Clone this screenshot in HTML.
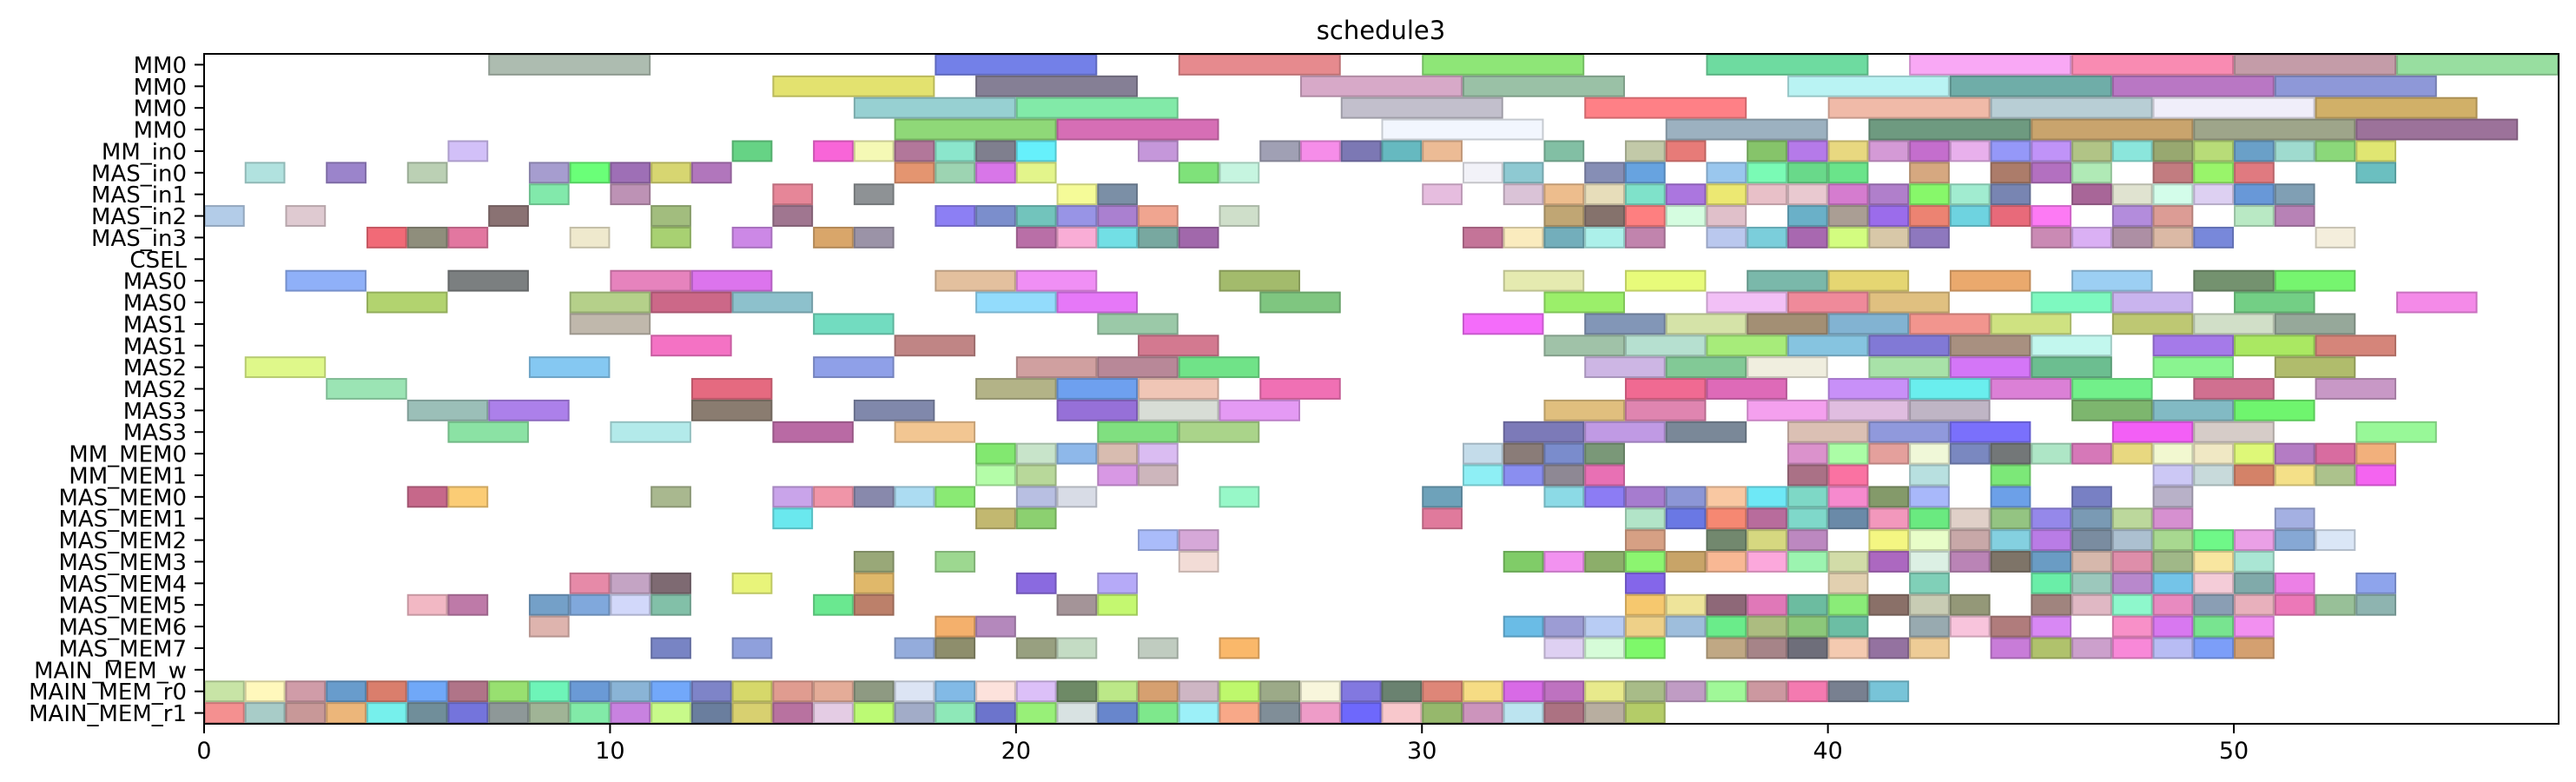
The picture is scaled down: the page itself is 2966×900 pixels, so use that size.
<!DOCTYPE html>
<html><head><meta charset="utf-8"><title>schedule3</title>
<style>
html,body{margin:0;padding:0;background:#fff;}
svg{display:block;font-family:"DejaVu Sans","Liberation Sans",sans-serif;}
</style></head>
<body>
<svg id="chart" width="2966" height="900" viewBox="0 0 2966 900">
<text x="1590" y="45" font-size="29" text-anchor="middle" fill="#000">schedule3</text>
<g id="bars"></g>
<g id="yaxis"></g>
<g id="xaxis"></g>
<rect x="235" y="62" width="2711" height="771" fill="none" stroke="#000" stroke-width="2"/>
</svg>
<script>
const rowLabels = ["MM0","MM0","MM0","MM0","MM_in0","MAS_in0","MAS_in1","MAS_in2","MAS_in3","CSEL","MAS0","MAS0","MAS1","MAS1","MAS2","MAS2","MAS3","MAS3","MM_MEM0","MM_MEM1","MAS_MEM0","MAS_MEM1","MAS_MEM2","MAS_MEM3","MAS_MEM4","MAS_MEM5","MAS_MEM6","MAS_MEM7","MAIN_MEM_w","MAIN_MEM_r0","MAIN_MEM_r1"];
const xTicks = [0,10,20,30,40,50];
const xDomain = [0,58];
// per row duration
const rowDurations = [4,4,4,4,1,1,1,1,1,1,2,2,2,2,2,2,2,2,1,1,1,1,1,1,1,1,1,1,1,1,1];
// per row: [start, color]
const rowTasks = [
[[7,'#adbcb0'],[18,'#7380e8'],[24,'#e68a8e'],[30,'#8ee677'],[37,'#6edba0'],[42,'#f9a8f5'],[46,'#f98bb2'],[50,'#c49ca8'],[54,'#98dea0']],
[[14,'#e3e26f'],[19,'#857f95'],[27,'#d7a9c8'],[31,'#9ac1a6'],[39,'#b9f3f3'],[43,'#6fada8'],[47,'#b977c4'],[51,'#8e98d8']],
[[16,'#97d0d2'],[20,'#82eaa8'],[28,'#c2bfcc'],[34,'#fe8086'],[40,'#f0baa8'],[44,'#b8ced5'],[48,'#f0eefa'],[52,'#d1b068']],
[[17,'#8fd878'],[21,'#d66eb5'],[29,'#f2f6fe'],[36,'#9cb1c0'],[41,'#6e9a80'],[45,'#c9a46d'],[49,'#9ea58a'],[53,'#9c729a']],
[[6,'#d2c0f8'],[13,'#66d385'],[15,'#f865d8'],[16,'#f5f9b5'],[17,'#b2779a'],[18,'#8be6cc'],[19,'#7f7f8e'],[20,'#66f0fb'],[23,'#c597da'],[26,'#a0a0b4'],[27,'#f68de9'],[28,'#7c78b4'],[29,'#66b9c0'],[30,'#ecbb95'],[33,'#82bfa4'],[35,'#c2c9a8'],[36,'#e77b78'],[38,'#86c46a'],[39,'#b57ae9'],[40,'#e8d880'],[41,'#d49ad6'],[42,'#c46ecd'],[43,'#e8b0ec'],[44,'#9598f8'],[45,'#c093f8'],[46,'#b1c486'],[47,'#8be6dc'],[48,'#98a870'],[49,'#b8dc78'],[50,'#6aa0c8'],[51,'#9fdbcf'],[52,'#8bd87a'],[53,'#e0e672']],
[[1,'#b1e2df'],[3,'#9b84cb'],[5,'#bbd0b4'],[8,'#a69dcf'],[9,'#6aff78'],[10,'#9e6fb6'],[11,'#d7d671'],[12,'#b176bc'],[17,'#e49570'],[18,'#9dd4b2'],[19,'#d876e8'],[20,'#e3f58b'],[24,'#7fe27a'],[25,'#c6f5e0'],[31,'#f2f2f8'],[32,'#8ec9d2'],[34,'#868eb5'],[35,'#67a3e0'],[37,'#9ac7ee'],[38,'#7afbb5'],[39,'#69d98a'],[40,'#6ae48a'],[42,'#d6a880'],[44,'#ac7c6a'],[45,'#b370c0'],[46,'#b0eab6'],[48,'#c27c80'],[49,'#99f56a'],[50,'#e07a80'],[53,'#6bbfc0']],
[[8,'#82e9ab'],[10,'#bd92b5'],[14,'#e68698'],[16,'#8e9295'],[21,'#f5fb98'],[22,'#7b8fa6'],[30,'#e6bddf'],[32,'#dac3d7'],[33,'#edbd8d'],[34,'#e7ddba'],[35,'#7fe2ca'],[36,'#ab76df'],[37,'#ece872'],[38,'#e8c0c8'],[39,'#e9c9d0'],[40,'#d57ccf'],[41,'#b07fcb'],[42,'#87f86a'],[43,'#a1ecd0'],[44,'#7885b2'],[46,'#a86698'],[47,'#e0e3d0'],[48,'#d3fdea'],[49,'#ddd0f2'],[50,'#6898d8'],[51,'#809fb4']],
[[0,'#b3cce8'],[2,'#dfcad1'],[7,'#8a7273'],[11,'#a2bd7e'],[14,'#a07690'],[18,'#8c7ff4'],[19,'#7b8ecc'],[20,'#72c4bc'],[21,'#9894e6'],[22,'#aa80d0'],[23,'#f0a590'],[25,'#cfdfca'],[33,'#c0a674'],[34,'#85726c'],[35,'#fe7f80'],[36,'#d5fde0'],[37,'#e0c0ca'],[39,'#6ab0c8'],[40,'#aa9e94'],[41,'#9b6ceb'],[42,'#ec8372'],[43,'#6ed3e0'],[44,'#e86a7a'],[45,'#fd7af4'],[47,'#b38cdc'],[48,'#dc9c95'],[50,'#b9e9c4'],[51,'#b782b6']],
[[4,'#f16a77'],[5,'#8f8e7c'],[6,'#e277a0'],[9,'#efe9cd'],[11,'#a8d172'],[13,'#cc88e6'],[15,'#d9a66a'],[16,'#9b93a7'],[20,'#b96fa7'],[21,'#f9add6'],[22,'#72dfe5'],[23,'#78a8a0'],[24,'#a168ab'],[31,'#c47498'],[32,'#faebbe'],[33,'#73aebb'],[34,'#acf0ea'],[35,'#c184ad'],[37,'#bac8ee'],[38,'#7bcedb'],[39,'#a868b0'],[40,'#d3fd80'],[41,'#d8c8a8'],[42,'#8e78be'],[45,'#ca8ab4'],[46,'#dab0f4'],[47,'#ad8fa4'],[48,'#dbb9a5'],[49,'#7888da'],[52,'#f4eedc']],
[],
[[2,'#8fb0f8'],[6,'#7b7f80'],[10,'#e683bd'],[12,'#dc74ed'],[18,'#e3c09e'],[20,'#f08ff5'],[25,'#a3bb6c'],[32,'#e5eab0'],[35,'#e8fb7a'],[38,'#7ab8aa'],[40,'#e5d672'],[43,'#eaa96d'],[46,'#9ccff3'],[49,'#74926f'],[51,'#76f56f']],
[[4,'#b2d36f'],[9,'#b5d08a'],[11,'#cc6888'],[13,'#8dc1cc'],[19,'#93dcfc'],[21,'#e678f8'],[26,'#7fc680'],[33,'#9bef6a'],[37,'#f2c0f6'],[39,'#ef8a9a'],[41,'#e0c080'],[45,'#7ef9c0'],[47,'#c9b4ee'],[50,'#73cf85'],[54,'#f48ae8']],
[[9,'#c0b8ac'],[15,'#72dcc0'],[22,'#9bc9a8'],[31,'#f46cfa'],[34,'#8296b7'],[36,'#d5e3a8'],[38,'#a38f74'],[40,'#82b3d2'],[42,'#f2958e'],[44,'#cfe281'],[47,'#bec873'],[49,'#d1dfc8'],[51,'#96a89a']],
[[11,'#f472c4'],[17,'#c08585'],[23,'#d37990'],[33,'#a0c2a8'],[35,'#b6e0d0'],[37,'#a7ec7a'],[39,'#86c4e0'],[41,'#8179d6'],[43,'#a89080'],[45,'#c2f7ee'],[48,'#a57ae9'],[50,'#aae862'],[52,'#d5857a']],
[[1,'#dff88a'],[8,'#85c8f2'],[15,'#8fa0e8'],[20,'#d0a0a0'],[22,'#b88898'],[24,'#70e388'],[34,'#cdb6e4'],[36,'#82c996'],[38,'#f0eedf'],[41,'#a8e2a8'],[43,'#d476f7'],[45,'#6cbe90'],[48,'#8af490'],[51,'#b0bc6c']],
[[3,'#9be4b4'],[12,'#e56a80'],[19,'#b3b387'],[21,'#6ea0ef'],[23,'#f0c6b6'],[26,'#f070b4'],[35,'#f06a92'],[37,'#de6ab8'],[40,'#c890f8'],[42,'#6aeeee'],[44,'#db80d6'],[46,'#72f08a'],[49,'#d07090'],[52,'#c898c6']],
[[5,'#9bbfb8'],[7,'#ac80ea'],[12,'#8a7c70'],[16,'#8088ab'],[21,'#9670d8'],[23,'#d8ddd6'],[25,'#e49af4'],[33,'#e0bf7e'],[35,'#df85b0'],[38,'#f4a0ee'],[40,'#e0bde0'],[42,'#bfb5c5'],[46,'#7db66e'],[48,'#82bac4'],[50,'#6ff56e']],
[[6,'#8be2a4'],[10,'#b3eaea'],[14,'#b96aa4'],[17,'#f2c692'],[22,'#80e080'],[24,'#aad48a'],[32,'#7c7ab8'],[34,'#c09ae4'],[36,'#7a8898'],[39,'#dbc0b4'],[41,'#9099dc'],[43,'#7a70fc'],[47,'#f35ff6'],[49,'#d6ccc8'],[53,'#98f898']],
[[19,'#82e870'],[20,'#c8e4ca'],[21,'#8eb8ea'],[22,'#d8bcb0'],[23,'#dabcf2'],[31,'#c4dcea'],[32,'#8a7c78'],[33,'#7a8ccc'],[34,'#7a9878'],[39,'#db92cc'],[40,'#abfda6'],[41,'#e4a09c'],[42,'#f0f8d8'],[43,'#7a88c0'],[44,'#737778'],[45,'#aee6c6'],[46,'#d678b8'],[47,'#e8d880'],[48,'#f2f8d0'],[49,'#f0e8c4'],[50,'#def878'],[51,'#b47cc4'],[52,'#d86ca0'],[53,'#f2b07c']],
[[19,'#b4fda8'],[20,'#b8d89a'],[22,'#d898e4'],[23,'#cdb6bc'],[31,'#8eeff5'],[32,'#8a8ef0'],[33,'#8e8894'],[34,'#e870b4'],[39,'#aa7186'],[40,'#fa72a2'],[42,'#b8e0e0'],[44,'#7ce878'],[48,'#ccc8f5'],[49,'#c8dadb'],[50,'#d48268'],[51,'#f4e088'],[52,'#acc28c'],[53,'#f464f0']],
[[5,'#c6688a'],[6,'#fbcc75'],[11,'#a9b88f'],[14,'#c9a4ea'],[15,'#f095a8'],[16,'#8889ac'],[17,'#acdcf2'],[18,'#8aea74'],[20,'#b8bfe2'],[21,'#d8dce6'],[25,'#97f8c8'],[30,'#6ea2ba'],[33,'#8cdae6'],[34,'#8c7cf4'],[35,'#a67ccf'],[36,'#8c96d6'],[37,'#f9c8a2'],[38,'#6ee8f6'],[39,'#7ed8c6'],[40,'#f68ace'],[41,'#849a6a'],[42,'#a8b8fa'],[44,'#6ca0e8'],[46,'#7880c4'],[48,'#b8b1c8']],
[[14,'#6ae8ee'],[19,'#c2b870'],[20,'#8cd070'],[30,'#e07a9c'],[35,'#b2e4c8'],[36,'#6a78e4'],[37,'#f68872'],[38,'#b86c9c'],[39,'#7fd8ca'],[40,'#6a8aa8'],[41,'#f298bc'],[42,'#6aea80'],[43,'#e0d0c8'],[44,'#94c482'],[45,'#9588ea'],[46,'#7a9ab4'],[47,'#bcd89c'],[48,'#d690d0'],[51,'#a4b0e2']],
[[23,'#aabcfa'],[24,'#d6a8d8'],[35,'#d6a084'],[37,'#72886e'],[38,'#d6d880'],[39,'#bc88c0'],[41,'#f4f682'],[42,'#e8fdc8'],[43,'#c8a8a8'],[44,'#84d0e0'],[45,'#b97ce6'],[46,'#7a8ca0'],[47,'#acc0d0'],[48,'#a8d890'],[49,'#6ff888'],[50,'#eaa0e6'],[51,'#86a8d4'],[52,'#dae6f6']],
[[16,'#99a878'],[18,'#9dd890'],[24,'#f2dcd6'],[32,'#80cc68'],[33,'#f292f0'],[34,'#8cae6a'],[35,'#8cf570'],[36,'#c8a468'],[37,'#f8b894'],[38,'#fca8dc'],[39,'#9cf4b0'],[40,'#d2dca8'],[41,'#ac68c0'],[42,'#dcf0e4'],[43,'#ba84b6'],[44,'#7e7468'],[45,'#6a9cc4'],[46,'#d6b8ac'],[47,'#de8eaa'],[48,'#a0b888'],[49,'#f8e6a0'],[50,'#aae6d4']],
[[9,'#e68aa8'],[10,'#c4a4c4'],[11,'#7e6a72'],[13,'#e8f47a'],[16,'#e0b86a'],[20,'#8a6ae0'],[22,'#b6aaf8'],[35,'#8466ea'],[40,'#e2d0b0'],[42,'#80d0b8'],[45,'#6aeea8'],[46,'#9cc8bc'],[47,'#b888cc'],[48,'#74c4e8'],[49,'#f4ccd8'],[50,'#80aaaa'],[51,'#ec80e6'],[53,'#8ea4ec']],
[[5,'#f2b8c4'],[6,'#be7aa8'],[8,'#74a0c8'],[9,'#80a8dc'],[10,'#d2d8fa'],[11,'#82c0a8'],[15,'#6ae890'],[16,'#bc806a'],[21,'#a49498'],[22,'#c4f870'],[35,'#f6c86e'],[36,'#eee49a'],[37,'#8e6878'],[38,'#e078b8'],[39,'#6cbca0'],[40,'#8aec78'],[41,'#8a7068'],[42,'#c8ccb4'],[43,'#949878'],[45,'#a0847e'],[46,'#e0b8c4'],[47,'#8ef8cc'],[48,'#e88ac0'],[49,'#8a9eb4'],[50,'#e8b0bc'],[51,'#ec78b8'],[52,'#98c098'],[53,'#8eb4b0']],
[[8,'#deb4ae'],[18,'#f4b06c'],[19,'#b488bc'],[32,'#6abce6'],[33,'#9c9cd4'],[34,'#b8ccf4'],[35,'#eed088'],[36,'#9ebedc'],[37,'#6aec8a'],[38,'#acbc80'],[39,'#8cc87a'],[40,'#6cbea4'],[42,'#98aab0'],[43,'#f8c4dc'],[44,'#b07c7c'],[45,'#d888f4'],[47,'#f890c8'],[48,'#d878f0'],[49,'#78e490'],[50,'#f290f0']],
[[11,'#7884c4'],[13,'#8fa0dc'],[17,'#94acdc'],[18,'#8e8e6c'],[20,'#98a080'],[21,'#c4dcc4'],[23,'#c0ccc0'],[25,'#fab86a'],[33,'#ded0f2'],[34,'#d6fcd8'],[35,'#7ef86a'],[37,'#c0a884'],[38,'#a68488'],[39,'#6e6e7a'],[40,'#f4cab0'],[41,'#9472a0'],[42,'#eecc96'],[44,'#c87cd8'],[45,'#b0c26c'],[46,'#cca0cc'],[47,'#f888d8'],[48,'#b8bcf4'],[49,'#7c9ef8'],[50,'#d4a070']],
[],
[[0,'#c8e4a6'],[1,'#fff8bc'],[2,'#d09ca8'],[3,'#689ccc'],[4,'#da7e6c'],[5,'#70a8f8'],[6,'#b07488'],[7,'#98e070'],[8,'#6ef4b8'],[9,'#6a9ad6'],[10,'#8ab4d6'],[11,'#72a8fa'],[12,'#7e84c8'],[13,'#d6d86a'],[14,'#e09c90'],[15,'#e4ac98'],[16,'#8e9a82'],[17,'#dce4f4'],[18,'#82bae6'],[19,'#fde2dc'],[20,'#dcc0f8'],[21,'#6e8a66'],[22,'#bce888'],[23,'#d6a070'],[24,'#ceb6c4'],[25,'#bef86c'],[26,'#9caa88'],[27,'#f8f6dc'],[28,'#8278e0'],[29,'#6a8270'],[30,'#de8678'],[31,'#f6dc84'],[32,'#d86ae6'],[33,'#be72c0'],[34,'#e8ea8c'],[35,'#a8bc88'],[36,'#c09cc4'],[37,'#a0f898'],[38,'#cc98a0'],[39,'#f47ab0'],[40,'#788090'],[41,'#78c4d8']],
[[0,'#f49090'],[1,'#a8ccc8'],[2,'#c89898'],[3,'#ecb67a'],[4,'#76f0ec'],[5,'#708e9a'],[6,'#7474dc'],[7,'#8e9898'],[8,'#a0b496'],[9,'#82eaa8'],[10,'#c882e0'],[11,'#c8fa8a'],[12,'#6a7e9e'],[13,'#d8d070'],[14,'#b872a0'],[15,'#e4cce4'],[16,'#bcfa74'],[17,'#a2acc8'],[18,'#8ee8b8'],[19,'#6c74cc'],[20,'#98f078'],[21,'#d8e2e2'],[22,'#6886cc'],[23,'#7ee88c'],[24,'#9cf0f8'],[25,'#f8a888'],[26,'#808e98'],[27,'#ee9cc8'],[28,'#6e68fc'],[29,'#f8c8cc'],[30,'#96b86c'],[31,'#cc94bc'],[32,'#bce4f0'],[33,'#ac7282'],[34,'#b8aea0'],[35,'#b4cc68']]
];

const NS = 'http://www.w3.org/2000/svg';
const plotL = 235, plotR = 2946, plotT = 62, plotB = 833;
const rowH = (plotB - plotT) / rowLabels.length;
function xScale(v){ return plotL + (v - xDomain[0]) / (xDomain[1] - xDomain[0]) * (plotR - plotL); }
function yScale(r){ return plotT + r * rowH; }
function darken(hex){
  const n = parseInt(hex.slice(1),16);
  const f = c => Math.round(c*0.82).toString(16).padStart(2,'0');
  return '#' + f(n>>16&255) + f(n>>8&255) + f(n&255);
}
const bars = document.getElementById('bars');
rowTasks.forEach((tasks, r) => {
  tasks.forEach((t) => {
    const rect = document.createElementNS(NS,'rect');
    const x0 = xScale(t[0]), x1 = xScale(t[0] + rowDurations[r]);
    rect.setAttribute('x', x0 + 1);
    rect.setAttribute('y', yScale(r) + 1);
    rect.setAttribute('width', x1 - x0 - 2);
    rect.setAttribute('height', rowH - 2);
    rect.setAttribute('fill', t[1]);
    rect.setAttribute('stroke', darken(t[1]));
    rect.setAttribute('stroke-width', '2');
    
    
    bars.appendChild(rect);
  });
});
const yaxis = document.getElementById('yaxis');
rowLabels.forEach((lab, r) => {
  const cy = yScale(r) + rowH / 2;
  const tk = document.createElementNS(NS,'line');
  tk.setAttribute('x1', plotL - 11); tk.setAttribute('x2', plotL);
  tk.setAttribute('y1', cy); tk.setAttribute('y2', cy);
  tk.setAttribute('stroke', '#000'); tk.setAttribute('stroke-width', '2');
  
  
  yaxis.appendChild(tk);
  const tx = document.createElementNS(NS,'text');
  tx.setAttribute('x', plotL - 20); tx.setAttribute('y', cy + 9.5);
  tx.setAttribute('font-size', '26'); tx.setAttribute('text-anchor', 'end');
  tx.setAttribute('textLength', '');
  tx.removeAttribute('textLength');
  tx.textContent = lab;
  
  
  yaxis.appendChild(tx);
});
const xaxis = document.getElementById('xaxis');
xTicks.forEach(v => {
  const x = xScale(v);
  const tk = document.createElementNS(NS,'line');
  tk.setAttribute('x1', x); tk.setAttribute('x2', x);
  tk.setAttribute('y1', plotB); tk.setAttribute('y2', plotB + 11);
  tk.setAttribute('stroke', '#000'); tk.setAttribute('stroke-width', '2');
  
  
  xaxis.appendChild(tk);
  const tx = document.createElementNS(NS,'text');
  tx.setAttribute('x', x); tx.setAttribute('y', plotB + 40);
  tx.setAttribute('font-size', '27'); tx.setAttribute('text-anchor', 'middle');
  tx.textContent = String(v);
  
  
  xaxis.appendChild(tx);
});
</script>
</body></html>
